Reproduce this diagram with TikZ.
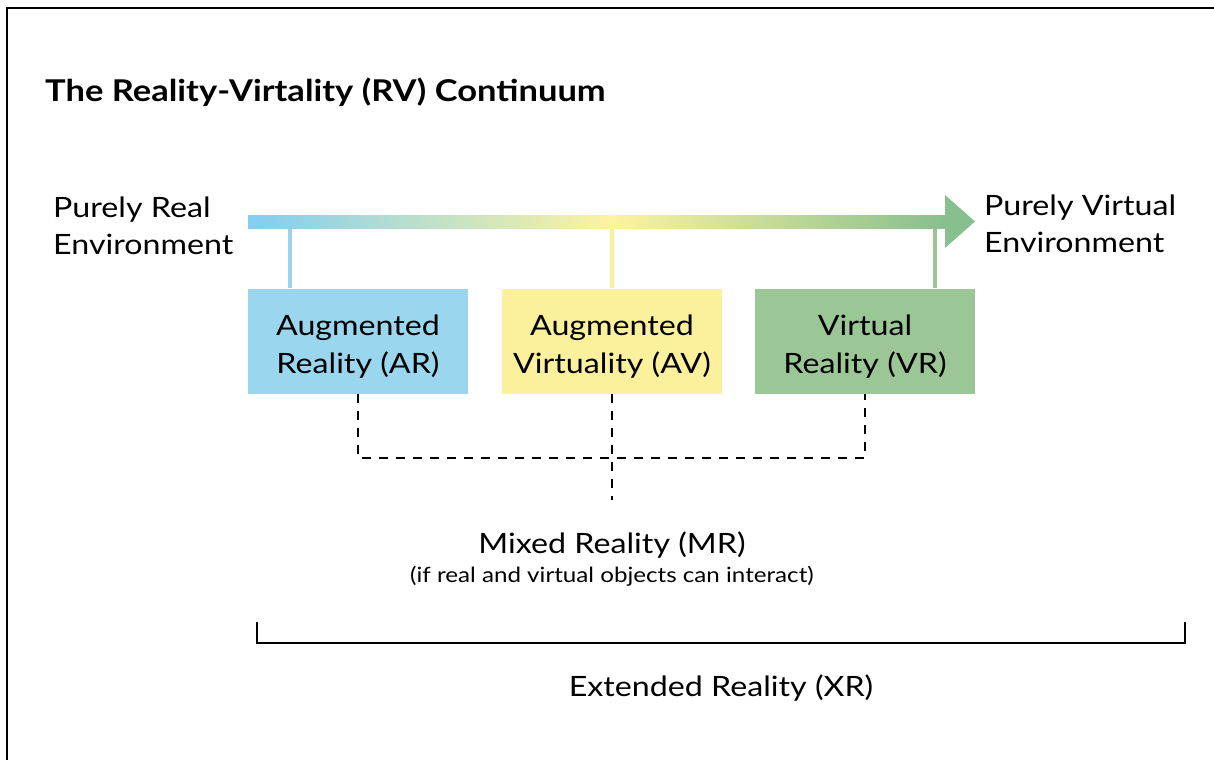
\documentclass[tikz,border=0pt]{standalone}
\usepackage{fontspec}
\setmainfont{Lato}[FakeStretch=1.15]
\usetikzlibrary{positioning}
\definecolor{arblue}{RGB}{154,214,238}
\definecolor{barblue}{RGB}{130,205,242}
\definecolor{avyellow}{RGB}{251,241,157}
\definecolor{baryellow}{RGB}{253,243,160}
\definecolor{vrgreen}{RGB}{155,199,151}
\definecolor{tipgreen}{RGB}{135,191,142}
\newcommand{\rvstrut}{\rule{0pt}{32pt}}
\begin{document}
\begin{tikzpicture}[x=1pt,y=-1pt,
  rvbox/.style={minimum width=220pt,minimum height=105pt,inner sep=0pt,align=center,
    font=\fontsize{28}{38}\selectfont},
  rvtext/.style={inner sep=0pt,font=\fontsize{28}{37}\selectfont},
  stem/.style={line width=3.5pt},
  mrdash/.style={line width=2.2pt,dash pattern=on 9pt off 8pt}]
\useasboundingbox (0,0) rectangle (1214,760);
\draw[line width=2.5pt] (7,760) -- (7,8) -- (1214,8);
% title
\node[anchor=base west,inner sep=0pt,font=\bfseries\fontsize{30}{34}\selectfont] (title) at (45,101)
  {The Reality-Virtality (RV) Continuum};
% the three boxes
\node[rvbox,fill=arblue] (ar) at (358,341) {\rvstrut Augmented\\Reality (AR)};
\node[rvbox,fill=avyellow] (av) at (612,341) {\rvstrut Augmented\\Virtuality (AV)};
\node[rvbox,fill=vrgreen] (vr) at (865,341) {\rvstrut Virtual\\Reality (VR)};
% stems up to the continuum
\coordinate (arstem) at ([xshift=-68pt]ar.north);
\coordinate (vrstem) at ([xshift=70pt]vr.north);
\draw[stem,arblue] (arstem) -- (arstem |- 0,222);
\draw[stem,avyellow] (av.north) -- (av.north |- 0,222);
\draw[stem,vrgreen] (vrstem) -- (vrstem |- 0,222);
% continuum arrow
\shade[left color=barblue,right color=baryellow] (248,215) rectangle (612.5,228);
\shade[left color=baryellow,right color=tipgreen] (612,215) rectangle (946,228);
\fill[tipgreen] (945,195) -- (975,221.5) -- (945,248) -- cycle;
\node[rvtext,anchor=base west,align=left] (real) at (53,254) {Purely Real\\Environment};
\node[rvtext,anchor=base west,align=left] (virtual) at (984,252) {Purely Virtual\\Environment};
% mixed reality
\coordinate (mrtop) at (612,500);
\draw[mrdash] (ar.south) -- (ar.south |- 0,458) -- (vr.south |- 0,458) -- (vr.south);
\draw[mrdash] (av.south) -- (mrtop);
\node[rvtext,anchor=base] (mr) at (612,553) {Mixed Reality (MR)};
\node[inner sep=0pt,anchor=base,font=\fontsize{21}{24}\selectfont] (mrnote) at (612,582)
  {(if real and virtual objects can interact)};
% extended reality
\coordinate (xrl) at (257,622);
\coordinate (xrr) at (1185,622);
\draw[line width=2pt] (xrl) -- (xrl |- 0,643) -- (xrr |- 0,643) -- (xrr);
\node[rvtext,anchor=base] (xr) at (721,696) {Extended Reality (XR)};
\end{tikzpicture}
\end{document}
